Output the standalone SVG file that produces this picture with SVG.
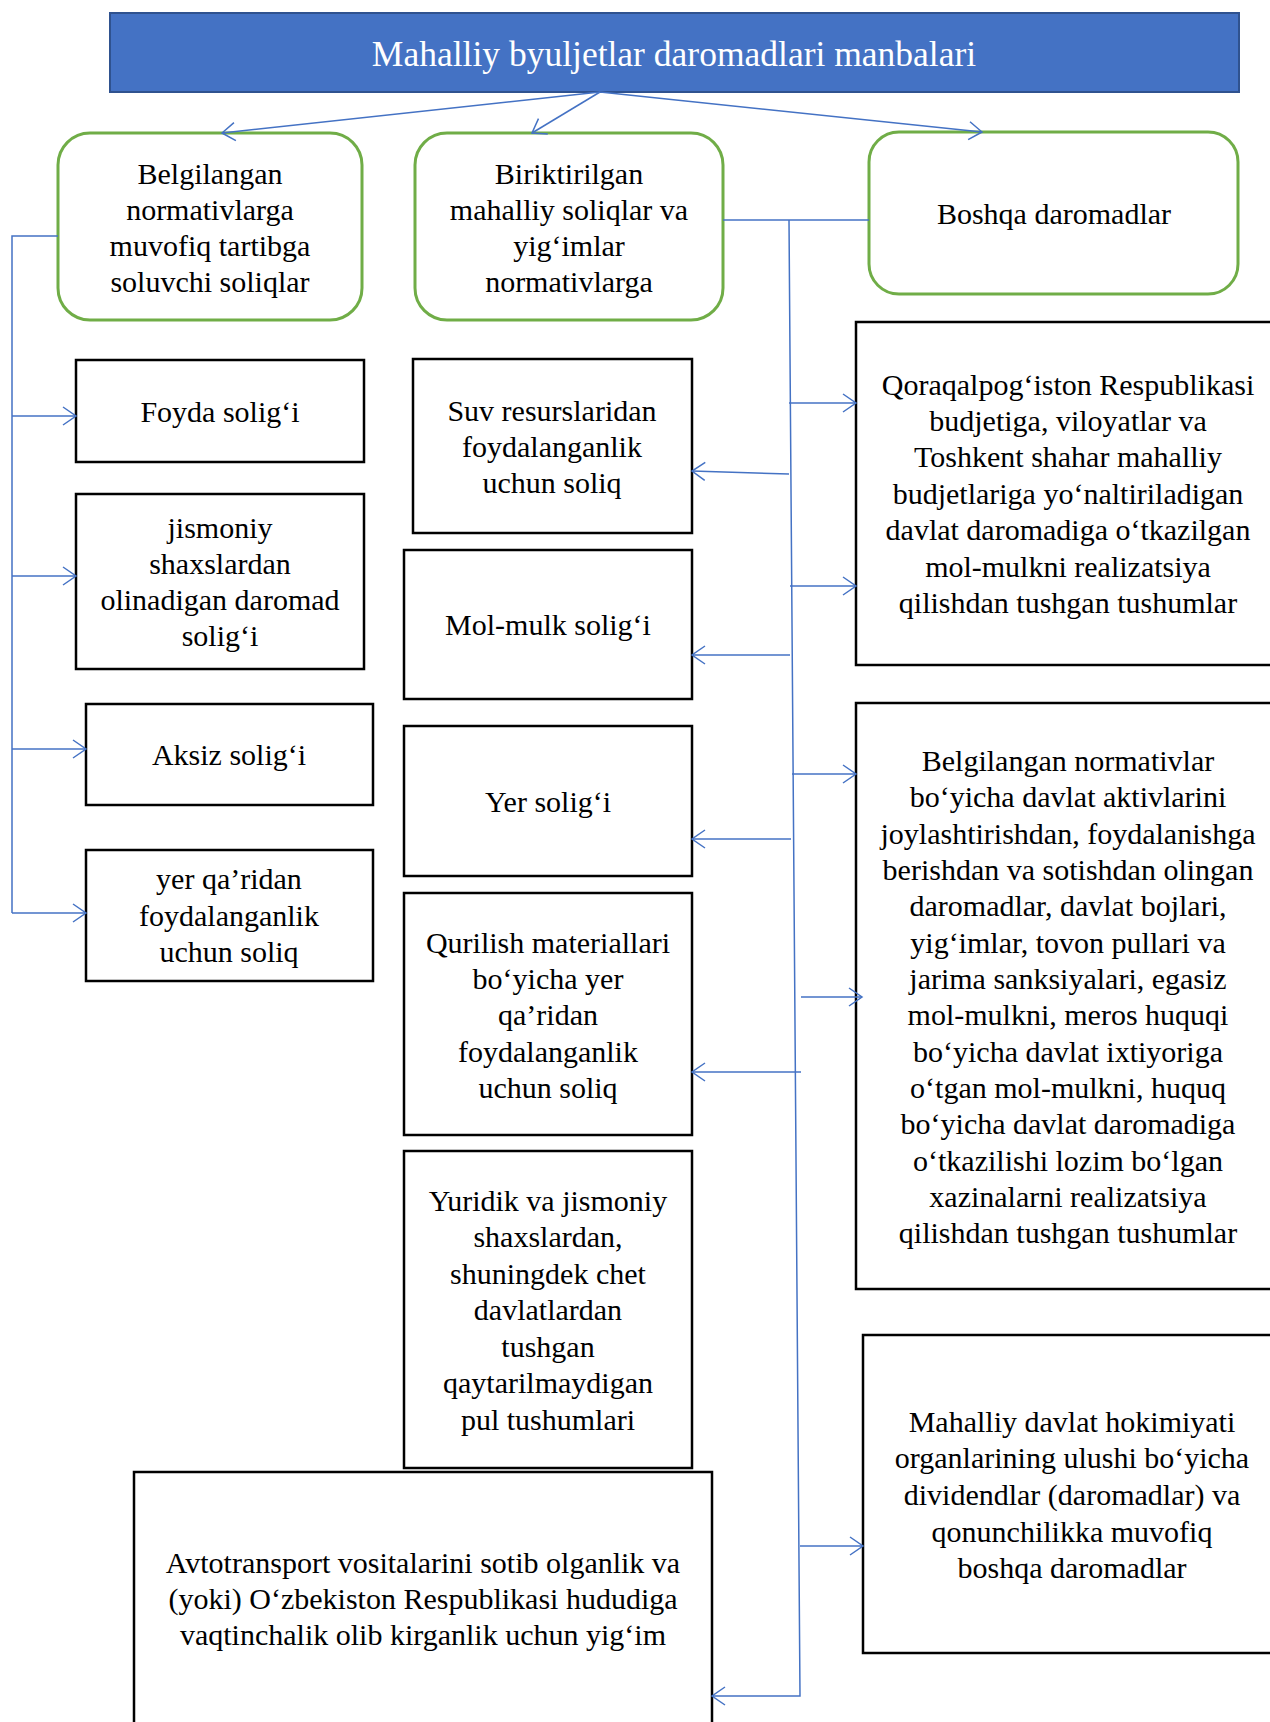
<svg xmlns="http://www.w3.org/2000/svg" width="1270" height="1722" viewBox="0 0 1270 1722">
<style>
.t{font-family:"Liberation Serif","Times New Roman",serif;font-size:30px;fill:#000;text-anchor:middle}
.title{font-family:"Liberation Serif","Times New Roman",serif;font-size:35.5px;fill:#fff;text-anchor:middle}
.g{fill:#fff;stroke:#70AD47;stroke-width:3}
.b{fill:#fff;stroke:#000;stroke-width:2.5}
.c{fill:none;stroke:#4472C4;stroke-width:1.5}
</style>
<defs>
<marker id="arr" markerWidth="18" markerHeight="20" refX="15" refY="10" orient="auto" markerUnits="userSpaceOnUse">
<path d="M2,1 L15,10 L2,19" fill="none" stroke="#4472C4" stroke-width="1.5"/>
</marker>
</defs>
<rect width="1270" height="1722" fill="#fff"/>

<g id="title">
<rect x="110" y="13" width="1129" height="79" fill="#4472C4" stroke="#2F528F" stroke-width="2"/>
<text class="title" x="674" y="66">Mahalliy byuljetlar daromadlari manbalari</text>
</g>

<g id="n-belgilangan">
<rect class="g" x="58" y="133" width="304" height="187" rx="32"/>
<text class="t" x="210"><tspan x="210" y="184">Belgilangan</tspan><tspan x="210" y="220">normativlarga</tspan><tspan x="210" y="256">muvofiq tartibga</tspan><tspan x="210" y="292">soluvchi soliqlar</tspan></text>
</g>

<g id="n-biriktirilgan">
<rect class="g" x="415" y="133" width="308" height="187" rx="32"/>
<text class="t" x="569"><tspan x="569" y="184">Biriktirilgan</tspan><tspan x="569" y="220">mahalliy soliqlar va</tspan><tspan x="569" y="256">yig‘imlar</tspan><tspan x="569" y="292">normativlarga</tspan></text>
</g>

<g id="n-boshqa">
<rect class="g" x="869" y="132" width="369" height="162" rx="30"/>
<text class="t" x="1054" y="224">Boshqa daromadlar</text>
</g>

<g id="n-foyda">
<rect class="b" x="76" y="360" width="288" height="102"/>
<text class="t" x="220" y="422">Foyda solig‘i</text>
</g>

<g id="n-jismoniy">
<rect class="b" x="76" y="494" width="288" height="175"/>
<text class="t" x="220"><tspan x="220" y="538">jismoniy</tspan><tspan x="220" y="574">shaxslardan</tspan><tspan x="220" y="610">olinadigan daromad</tspan><tspan x="220" y="646">solig‘i</tspan></text>
</g>

<g id="n-aksiz">
<rect class="b" x="86" y="704" width="287" height="101"/>
<text class="t" x="229" y="765">Aksiz solig‘i</text>
</g>

<g id="n-yerqaridan">
<rect class="b" x="86" y="850" width="287" height="131"/>
<text class="t" x="229"><tspan x="229" y="889">yer qa’ridan</tspan><tspan x="229" y="926">foydalanganlik</tspan><tspan x="229" y="962">uchun soliq</tspan></text>
</g>

<g id="n-suv">
<rect class="b" x="413" y="359" width="279" height="174"/>
<text class="t" x="552"><tspan x="552" y="421">Suv resurslaridan</tspan><tspan x="552" y="457">foydalanganlik</tspan><tspan x="552" y="493">uchun soliq</tspan></text>
</g>

<g id="n-molmulk">
<rect class="b" x="404" y="550" width="288" height="149"/>
<text class="t" x="548" y="635">Mol-mulk solig‘i</text>
</g>

<g id="n-yer">
<rect class="b" x="404" y="726" width="288" height="150"/>
<text class="t" x="548" y="812">Yer solig‘i</text>
</g>

<g id="n-qurilish">
<rect class="b" x="404" y="893" width="288" height="242"/>
<text class="t" x="548"><tspan x="548" y="953">Qurilish materiallari</tspan><tspan x="548" y="989">bo‘yicha yer</tspan><tspan x="548" y="1025">qa’ridan</tspan><tspan x="548" y="1062">foydalanganlik</tspan><tspan x="548" y="1098">uchun soliq</tspan></text>
</g>

<g id="n-yuridik">
<rect class="b" x="404" y="1151" width="288" height="317"/>
<text class="t" x="548"><tspan x="548" y="1211">Yuridik va jismoniy</tspan><tspan x="548" y="1247">shaxslardan,</tspan><tspan x="548" y="1284">shuningdek chet</tspan><tspan x="548" y="1320">davlatlardan</tspan><tspan x="548" y="1357">tushgan</tspan><tspan x="548" y="1393">qaytarilmaydigan</tspan><tspan x="548" y="1430">pul tushumlari</tspan></text>
</g>

<g id="n-avtotransport">
<rect class="b" x="134" y="1472" width="578" height="270"/>
<text class="t" x="423"><tspan x="423" y="1573">Avtotransport vositalarini sotib olganlik va</tspan><tspan x="423" y="1609">(yoki) O‘zbekiston Respublikasi hududiga</tspan><tspan x="423" y="1645">vaqtinchalik olib kirganlik uchun yig‘im</tspan></text>
</g>

<g id="n-qoraqalpog">
<rect class="b" x="856" y="322" width="426" height="343"/>
<text class="t" x="1068"><tspan x="1068" y="395">Qoraqalpog‘iston Respublikasi</tspan><tspan x="1068" y="431">budjetiga, viloyatlar va</tspan><tspan x="1068" y="467">Toshkent shahar mahalliy</tspan><tspan x="1068" y="504">budjetlariga yo‘naltiriladigan</tspan><tspan x="1068" y="540">davlat daromadiga o‘tkazilgan</tspan><tspan x="1068" y="577">mol-mulkni realizatsiya</tspan><tspan x="1068" y="613">qilishdan tushgan tushumlar</tspan></text>
</g>

<g id="n-normativlar">
<rect class="b" x="856" y="703" width="426" height="586"/>
<text class="t" x="1068"><tspan x="1068" y="771">Belgilangan normativlar</tspan><tspan x="1068" y="807">bo‘yicha davlat aktivlarini</tspan><tspan x="1068" y="844">joylashtirishdan, foydalanishga</tspan><tspan x="1068" y="880">berishdan va sotishdan olingan</tspan><tspan x="1068" y="916">daromadlar, davlat bojlari,</tspan><tspan x="1068" y="953">yig‘imlar, tovon pullari va</tspan><tspan x="1068" y="989">jarima sanksiyalari, egasiz</tspan><tspan x="1068" y="1025">mol-mulkni, meros huquqi</tspan><tspan x="1068" y="1062">bo‘yicha davlat ixtiyoriga</tspan><tspan x="1068" y="1098">o‘tgan mol-mulkni, huquq</tspan><tspan x="1068" y="1134">bo‘yicha davlat daromadiga</tspan><tspan x="1068" y="1171">o‘tkazilishi lozim bo‘lgan</tspan><tspan x="1068" y="1207">xazinalarni realizatsiya</tspan><tspan x="1068" y="1243">qilishdan tushgan tushumlar</tspan></text>
</g>

<g id="n-mahalliy">
<rect class="b" x="863" y="1335" width="420" height="318"/>
<text class="t" x="1072"><tspan x="1072" y="1432">Mahalliy davlat hokimiyati</tspan><tspan x="1072" y="1468">organlarining ulushi bo‘yicha</tspan><tspan x="1072" y="1505">dividendlar (daromadlar) va</tspan><tspan x="1072" y="1542">qonunchilikka muvofiq</tspan><tspan x="1072" y="1578">boshqa daromadlar</tspan></text>
</g>

<g id="connectors">
<path class="c" d="M600,92 L222,133" marker-end="url(#arr)"/>
<path class="c" d="M600,92 L532,133" marker-end="url(#arr)"/>
<path class="c" d="M600,92 L982,132" marker-end="url(#arr)"/>
<path class="c" d="M58,236 L12,236 L12,913"/>
<path class="c" d="M12,416 L76,416" marker-end="url(#arr)"/>
<path class="c" d="M12,576 L76,576" marker-end="url(#arr)"/>
<path class="c" d="M12,749 L86,749" marker-end="url(#arr)"/>
<path class="c" d="M12,913 L86,913" marker-end="url(#arr)"/>
<path class="c" d="M723,220 L869,220"/>
<path class="c" d="M789,220 L800,1696 L712,1696" marker-end="url(#arr)"/>
<path class="c" d="M789,474 L692,471" marker-end="url(#arr)"/>
<path class="c" d="M790,655 L692,655" marker-end="url(#arr)"/>
<path class="c" d="M791,839 L692,839" marker-end="url(#arr)"/>
<path class="c" d="M801,1072 L692,1072" marker-end="url(#arr)"/>
<path class="c" d="M789,403 L856,403" marker-end="url(#arr)"/>
<path class="c" d="M790,586 L856,586" marker-end="url(#arr)"/>
<path class="c" d="M792,774 L856,774" marker-end="url(#arr)"/>
<path class="c" d="M801,997 L862,997" marker-end="url(#arr)"/>
<path class="c" d="M800,1546 L863,1546" marker-end="url(#arr)"/>
</g>
</svg>
